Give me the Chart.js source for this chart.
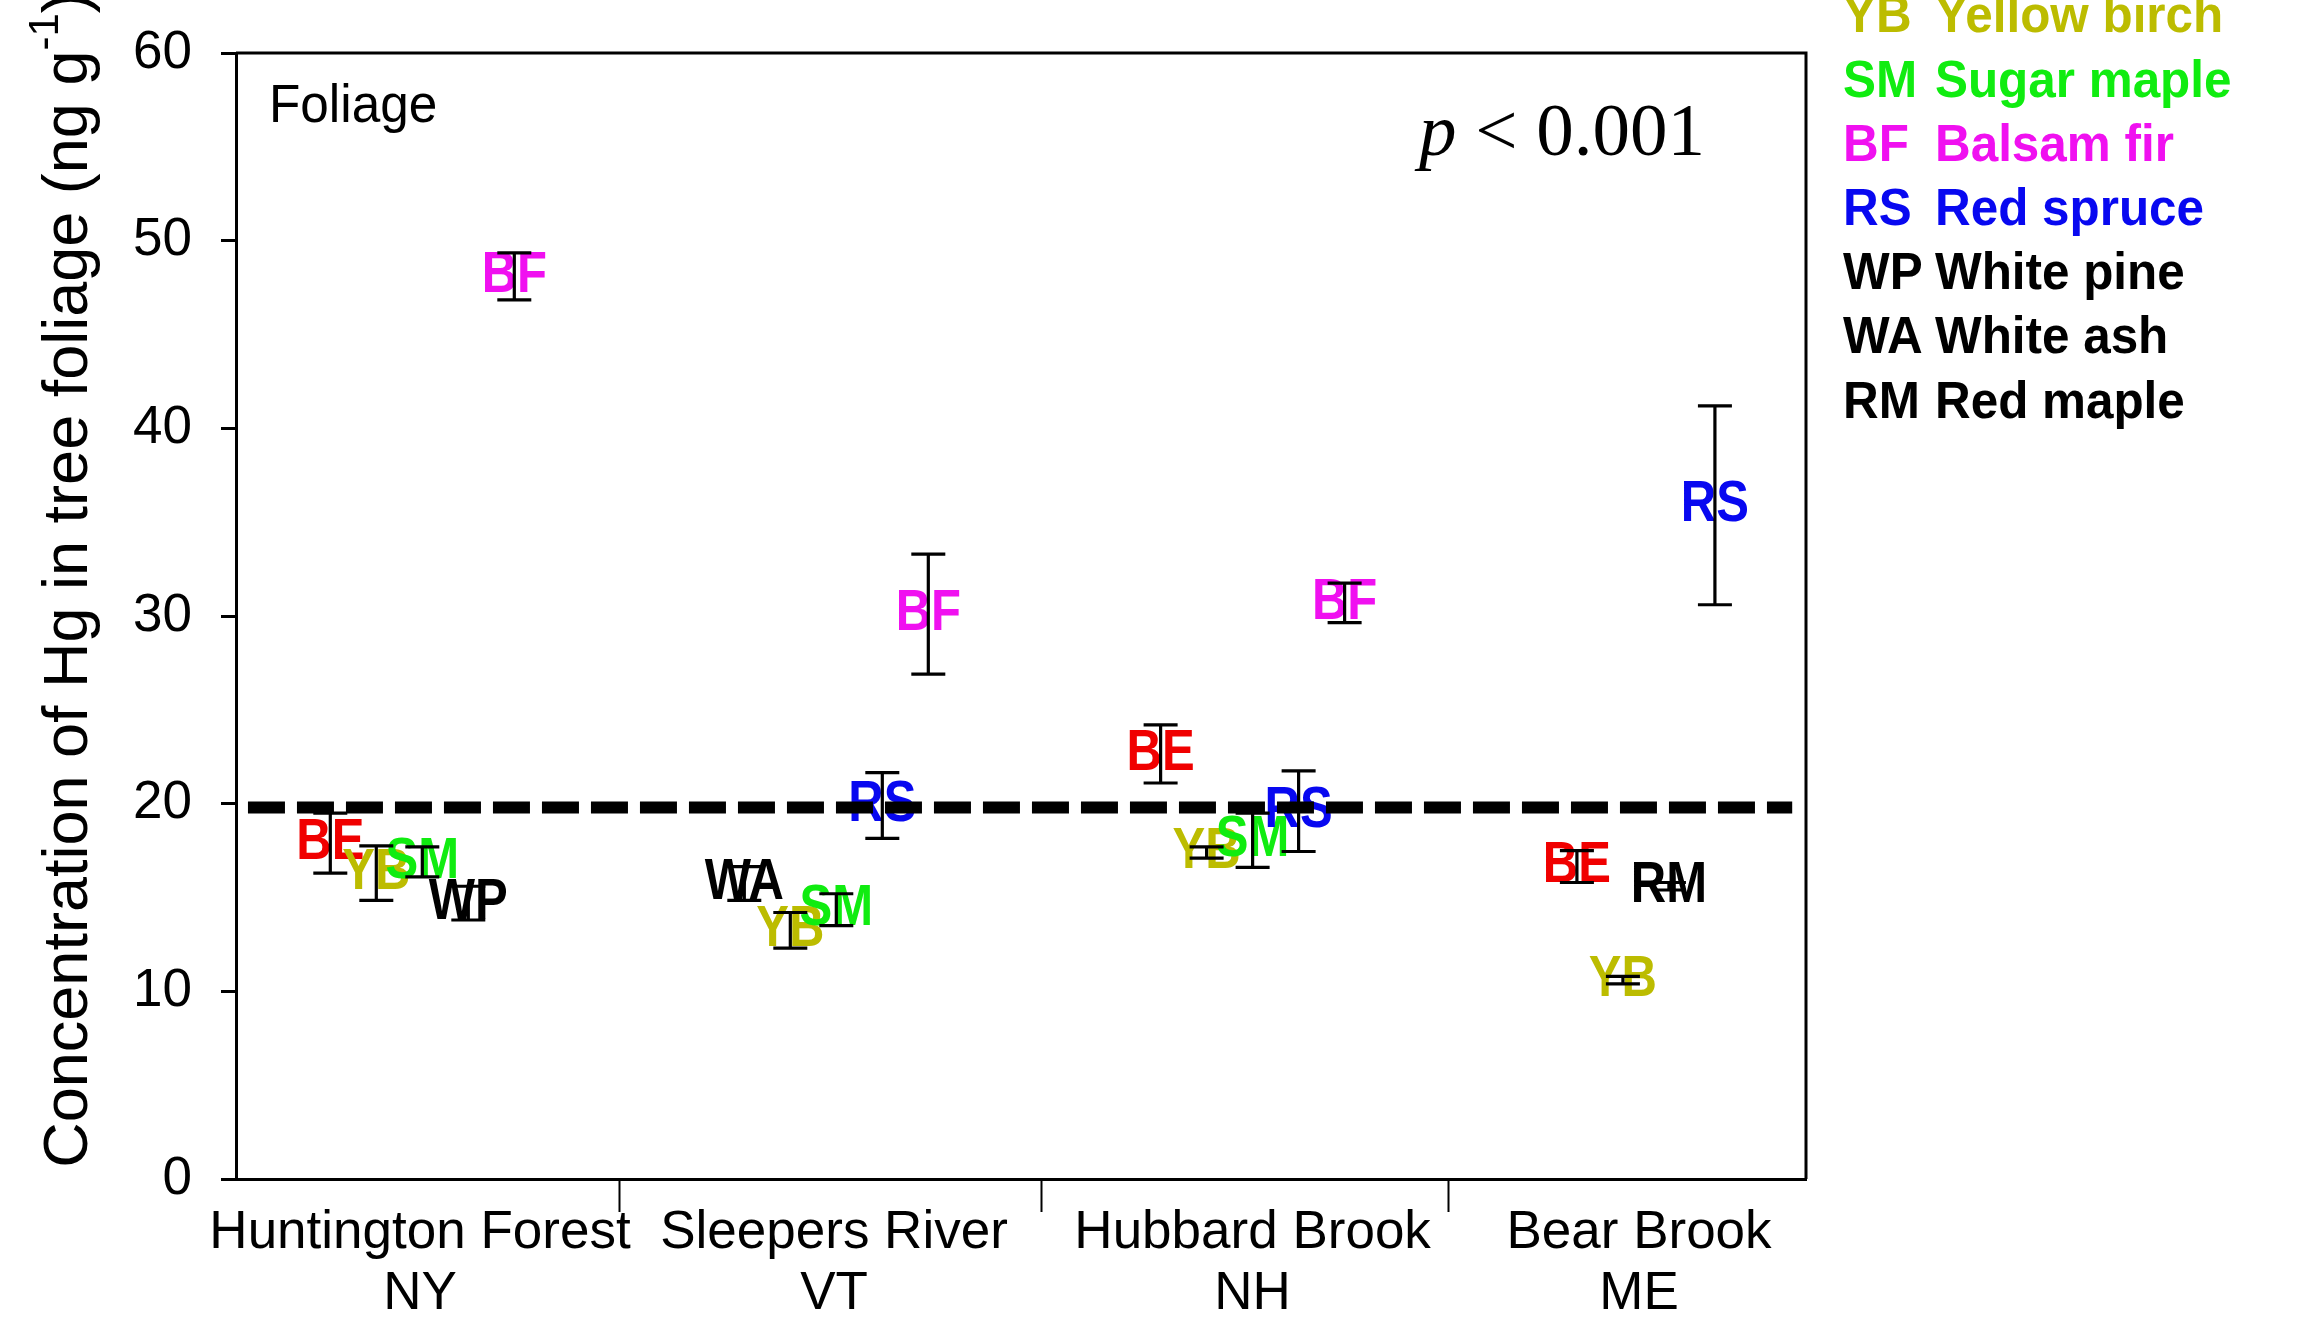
<!DOCTYPE html>
<html>
<head>
<meta charset="utf-8">
<script src="https://cdn.jsdelivr.net/npm/chart.js@4.4.0/dist/chart.umd.min.js"></script>
<style>
  html, body { margin: 0; padding: 0; background: #fff; }
  #wrap { width: 2317px; height: 1317px; }
</style>
</head>
<body>
<div id="wrap"><canvas id="foliageChart" width="2317" height="1317"></canvas></div>
<script>
// Sites along the x axis (position in slot units)
const siteNames = [['Huntington Forest', 'NY'], ['Sleepers River', 'VT'], ['Hubbard Brook', 'NH'], ['Bear Brook', 'ME']];
const siteCenters = [4.0, 13.0, 22.1, 30.5];
const siteBreaks = [8.33, 17.52, 26.35];
const siteStarts = [2.05, 11.05, 20.1, 29.15];

// Species per site (mean +/- SE, ng/g)
const hfCodes = ['BE', 'YB', 'SM', 'WP', 'BF'];
const hfMeans = [17.9, 16.3, 16.9, 14.7, 48.1];
const hfErrors = [1.6, 1.45, 0.8, 0.9, 1.25];

const srCodes = ['WA', 'YB', 'SM', 'RS', 'BF'];
const srMeans = [15.75, 13.25, 14.35, 19.9, 30.1];
const srErrors = [0.9, 0.95, 0.85, 1.75, 3.2];

const hbCodes = ['BE', 'YB', 'SM', 'RS', 'BF'];
const hbMeans = [22.65, 17.4, 18.05, 19.6, 30.7];
const hbErrors = [1.55, 0.3, 1.45, 2.15, 1.05];

const bbCodes = ['BE', 'YB', 'RM', 'RS'];
const bbMeans = [16.65, 10.6, 15.6, 35.9];
const bbErrors = [0.85, 0.2, 0.2, 5.3];

const guideValue = 19.8;
const guideSpan = [0.26, 33.83];

const yTicks = [0, 10, 20, 30, 40, 50, 60];

const legendCodes = ['YB', 'SM', 'BF', 'RS', 'WP', 'WA', 'RM'];
const legendNames = ['Yellow birch', 'Sugar maple', 'Balsam fir', 'Red spruce', 'White pine', 'White ash', 'Red maple'];

const speciesColors = {
    BE: '#f00000', YB: '#bcbc00', SM: '#10ec10', BF: '#f010f0',
    RS: '#0808f0', WP: '#000000', WA: '#000000', RM: '#000000'
};

const SANS = "'Liberation Sans', Arial, sans-serif";
const SERIF = "'Liberation Serif', 'Times New Roman', serif";

// build one scatter dataset per species
const siteData = [
    [hfCodes, hfMeans, hfErrors],
    [srCodes, srMeans, srErrors],
    [hbCodes, hbMeans, hbErrors],
    [bbCodes, bbMeans, bbErrors]
];
const bySpecies = {};
siteData.forEach(([codes, means, errs], s) => {
    codes.forEach((code, i) => {
        if (!bySpecies[code]) bySpecies[code] = [];
        bySpecies[code].push({ x: siteStarts[s] + i, y: means[i], err: errs[i] });
    });
});
const datasets = Object.keys(bySpecies).map(code => ({
    type: 'scatter',
    label: code,
    code: code,
    data: bySpecies[code],
    pointRadius: 0,
    pointHoverRadius: 0
}));
datasets.push({
    type: 'line',
    label: 'guide',
    data: [{ x: guideSpan[0], y: guideValue }, { x: guideSpan[1], y: guideValue }],
    borderColor: '#000',
    borderWidth: 12,
    borderDash: [37, 12],
    borderCapStyle: 'butt',
    pointRadius: 0,
    fill: false
});

const xTicks = siteCenters.map((v, i) => ({ value: v, label: siteNames[i] }))
    .concat(siteBreaks.map(v => ({ value: v, label: '' })))
    .sort((a, b) => a.value - b.value);
const breakSet = new Set(siteBreaks);

// text squeezed sideways, the original uses a tall narrow face
function narrowText(ctx, text, x, y, sx) {
    ctx.save();
    ctx.translate(x, y);
    ctx.scale(sx, 1);
    ctx.fillText(text, 0, 0);
    ctx.restore();
}

// species letters with error bars, drawn under the dashed guide line
const marksPlugin = {
    id: 'marks',
    beforeDatasetsDraw(chart) {
        const { ctx, scales: { x, y } } = chart;
        ctx.save();
        ctx.font = 'bold 57px ' + SANS;
        ctx.textAlign = 'center';
        ctx.textBaseline = 'middle';
        chart.data.datasets.forEach(ds => {
            if (!ds.code) return;
            ctx.fillStyle = speciesColors[ds.code];
            ds.data.forEach(p => narrowText(ctx, ds.code, x.getPixelForValue(p.x), y.getPixelForValue(p.y), 0.86));
        });
        ctx.strokeStyle = '#000';
        ctx.lineWidth = 3.2;
        chart.data.datasets.forEach(ds => {
            if (!ds.code) return;
            ds.data.forEach(p => {
                const px = x.getPixelForValue(p.x);
                const top = y.getPixelForValue(p.y + p.err);
                const bot = y.getPixelForValue(p.y - p.err);
                ctx.beginPath();
                ctx.moveTo(px, top); ctx.lineTo(px, bot);
                ctx.moveTo(px - 17, top); ctx.lineTo(px + 17, top);
                ctx.moveTo(px - 17, bot); ctx.lineTo(px + 17, bot);
                ctx.stroke();
            });
        });
        ctx.restore();
    }
};

// frame, annotations, axis title and species key
const decorPlugin = {
    id: 'decor',
    afterDraw(chart) {
        const { ctx, chartArea: a } = chart;
        ctx.save();
        ctx.strokeStyle = '#000';
        ctx.lineWidth = 3;
        ctx.beginPath();
        ctx.moveTo(a.left, a.top); ctx.lineTo(a.right, a.top); ctx.lineTo(a.right, a.bottom);
        ctx.stroke();

        ctx.fillStyle = '#000';
        ctx.textBaseline = 'alphabetic';
        ctx.textAlign = 'left';
        ctx.font = '54px ' + SANS;
        narrowText(ctx, 'Foliage', a.left + 33, a.top + 69, 0.95);

        // p value
        ctx.font = 'italic 75px ' + SERIF;
        const px0 = a.left + 1183;
        ctx.fillText('p', px0, a.top + 102);
        const pw = ctx.measureText('p').width;
        ctx.font = '75px ' + SERIF;
        ctx.fillText(' < 0.001', px0 + pw, a.top + 102);

        // y axis title with superscript
        ctx.translate(70, 580);
        ctx.rotate(-Math.PI / 2);
        const main = 'Concentration of Hg in tree foliage (ng g';
        const sup = '-1';
        const close = ')';
        ctx.font = '63px ' + SANS;
        const w1 = ctx.measureText(main).width;
        const w3 = ctx.measureText(close).width;
        ctx.font = '42px ' + SANS;
        const w2 = ctx.measureText(sup).width;
        const sx = -(w1 + w2 + w3) / 2;
        ctx.textBaseline = 'middle';
        ctx.font = '63px ' + SANS;
        ctx.fillText(main, sx, 0);
        ctx.font = '42px ' + SANS;
        ctx.fillText(sup, sx + w1, -24);
        ctx.font = '63px ' + SANS;
        ctx.fillText(close, sx + w1 + w2, 0);
        ctx.restore();

        // species key on the right
        ctx.save();
        ctx.font = 'bold 52px ' + SANS;
        ctx.textBaseline = 'middle';
        ctx.textAlign = 'left';
        legendCodes.forEach((code, i) => {
            const ly = 18 + i * 64.2;
            ctx.fillStyle = speciesColors[code];
            narrowText(ctx, code, 1843, ly, 0.95);
            narrowText(ctx, legendNames[i], 1935, ly, 0.95);
        });
        ctx.restore();
    }
};

new Chart(document.getElementById('foliageChart'), {
    data: { datasets: datasets },
    options: {
        responsive: false,
        animation: false,
        events: [],
        layout: { padding: { top: 53, right: 511, bottom: 0, left: 0 } },
        plugins: { legend: { display: false }, tooltip: { enabled: false } },
        scales: {
            x: {
                type: 'linear',
                min: 0,
                max: 34.13,
                afterBuildTicks: scale => { scale.ticks = xTicks.map(t => ({ value: t.value })); },
                afterFit: scale => { scale.height = 138; scale.paddingLeft = 0; scale.paddingRight = 0; },
                border: { display: true, color: '#000', width: 3 },
                grid: {
                    drawOnChartArea: false,
                    drawTicks: true,
                    tickLength: 33,
                    tickWidth: 2,
                    tickColor: c => (c.tick && breakSet.has(c.tick.value)) ? '#000' : 'rgba(0,0,0,0)'
                },
                ticks: {
                    autoSkip: false,
                    maxRotation: 0,
                    minRotation: 0,
                    padding: -9,
                    color: '#000',
                    font: { family: SANS, size: 53, lineHeight: 1.15 },
                    callback: (value, index) => xTicks[index] ? xTicks[index].label : ''
                }
            },
            y: {
                min: 0,
                max: 60,
                afterBuildTicks: scale => { scale.ticks = yTicks.map(v => ({ value: v })); },
                afterFit: scale => { scale.width = 236; scale.paddingTop = 0; scale.paddingBottom = 0; },
                border: { display: true, color: '#000', width: 3 },
                grid: { drawOnChartArea: false, drawTicks: true, tickLength: 15, tickWidth: 3, tickColor: '#000' },
                ticks: { padding: 29, color: '#000', font: { family: SANS, size: 53 } }
            }
        }
    },
    plugins: [marksPlugin, decorPlugin]
});
</script>
</body>
</html>
